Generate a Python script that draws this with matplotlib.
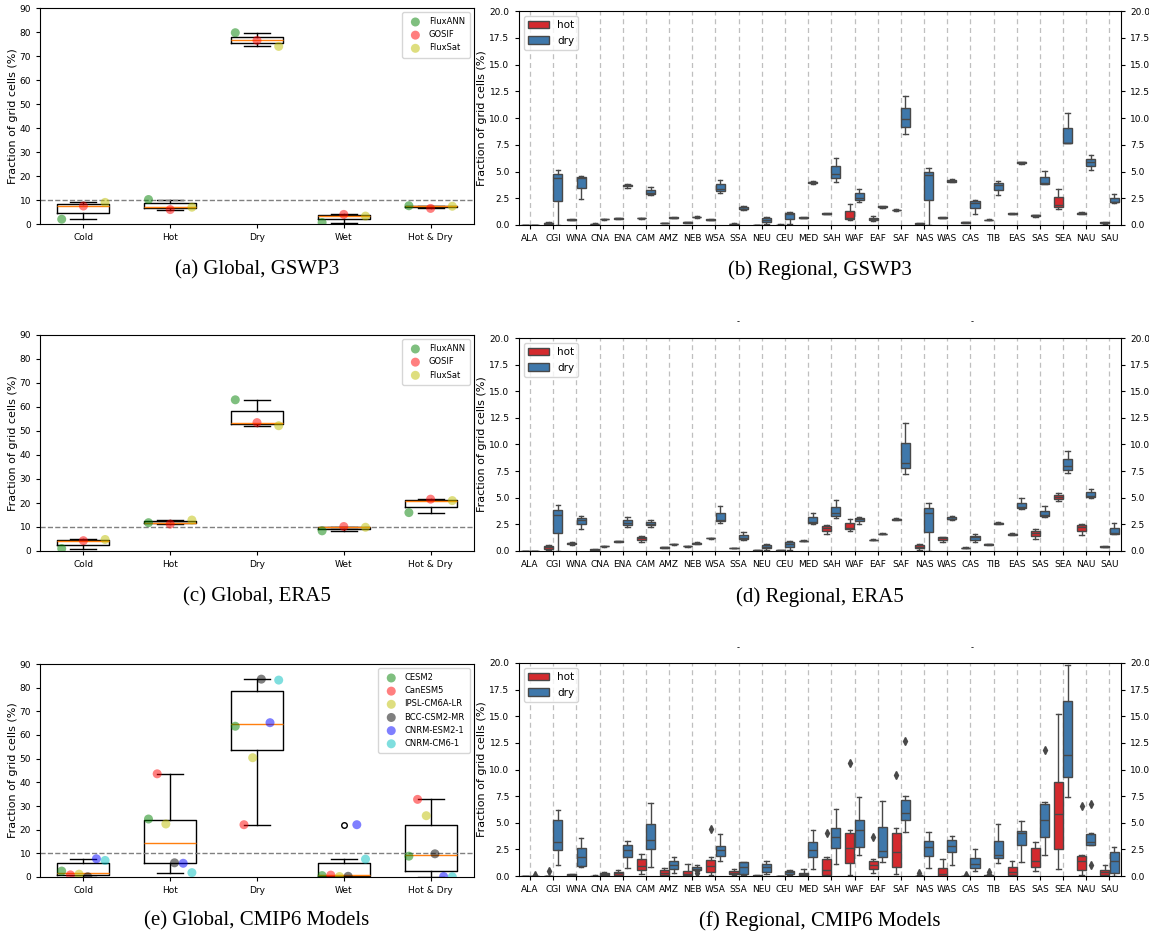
import numpy as np
import matplotlib.pyplot as plt
from matplotlib.patches import Patch

# ---- global panels: fraction of grid cells per driver ----
categories = ['Cold', 'Hot', 'Dry', 'Wet', 'Hot & Dry']

gswp3_fluxann = [2.0, 10.2, 79.7, 0.6, 7.6]
gswp3_gosif = [7.5, 6.0, 76.5, 4.0, 6.5]
gswp3_fluxsat = [9.0, 7.0, 74.0, 3.3, 7.4]

era5_fluxann = [1.0, 11.8, 63.0, 8.4, 16.0]
era5_gosif = [4.3, 11.2, 53.5, 10.2, 21.6]
era5_fluxsat = [4.8, 12.9, 52.2, 9.9, 21.0]

cesm2 = [2.5, 24.5, 63.7, 0.6, 8.8]
canesm5 = [0.9, 43.6, 22.1, 0.8, 32.8]
ipsl = [1.2, 22.4, 50.4, 0.2, 25.9]
bcc = [0.1, 6.0, 83.6, 0.3, 9.8]
cnrm_esm = [7.7, 5.8, 65.2, 22.1, 0.2]
cnrm_cm = [7.0, 1.85, 83.2, 7.55, 0.1]

# ---- regional panels ----
regions = ['ALA', 'CGI', 'WNA', 'CNA', 'ENA', 'CAM', 'AMZ', 'NEB', 'WSA', 'SSA',
           'NEU', 'CEU', 'MED', 'SAH', 'WAF', 'EAF', 'SAF', 'NAS', 'WAS', 'CAS',
           'TIB', 'EAS', 'SAS', 'SEA', 'NAU', 'SAU']

# three GPP products per region (GSWP3)
gswp3_hot = [[0, 0, 0.02], [0.05, 0.15, 0.25], [0.45, 0.5, 0.55], [0.05, 0.1, 0.15],
             [0.55, 0.62, 0.7], [0.6, 0.65, 0.7], [0.15, 0.2, 0.22], [0.2, 0.25, 0.3],
             [0.45, 0.5, 0.55], [0.05, 0.1, 0.15], [0, 0, 0.02], [0, 0.02, 0.05],
             [0.65, 0.7, 0.72], [1.0, 1.05, 1.12], [0.45, 0.65, 2.0], [0.4, 0.55, 0.8],
             [1.35, 1.4, 1.45], [0.05, 0.1, 0.2], [0.65, 0.7, 0.72], [0.2, 0.25, 0.28],
             [0.45, 0.5, 0.52], [1.0, 1.05, 1.1], [0.75, 0.9, 0.95], [1.45, 1.85, 3.4],
             [1.0, 1.1, 1.2], [0.1, 0.2, 0.3]]
gswp3_dry = [[0, 0, 0.02], [0, 4.4, 5.1], [2.44, 4.4, 4.55], [0.5, 0.55, 0.6],
             [3.45, 3.75, 3.8], [2.85, 3.0, 3.55], [0.65, 0.7, 0.72], [0.7, 0.75, 0.8],
             [3.0, 3.4, 4.25], [1.4, 1.5, 1.8], [0.1, 0.5, 0.75], [0.1, 1.05, 1.2],
             [3.85, 4.0, 4.1], [4.05, 4.75, 6.25], [2.15, 2.55, 3.35], [1.6, 1.7, 1.8],
             [8.5, 9.9, 12.05], [0, 4.7, 5.3], [4.0, 4.1, 4.3], [1.0, 2.1, 2.35],
             [2.85, 3.75, 4.15], [5.7, 5.85, 5.9], [3.8, 3.9, 5.05], [7.65, 7.7, 10.45],
             [5.1, 5.9, 6.5], [2.1, 2.15, 2.9]]

# three GPP products per region (ERA5)
era5_hot = [[0, 0, 0], [0.05, 0.35, 0.6], [0.6, 0.75, 0.8], [0.05, 0.12, 0.18],
            [0.85, 0.9, 0.95], [0.85, 1.25, 1.4], [0.3, 0.35, 0.4], [0.4, 0.45, 0.5],
            [1.15, 1.2, 1.25], [0.25, 0.28, 0.32], [0, 0.05, 0.08], [0, 0.05, 0.1],
            [0.9, 0.95, 1.0], [1.55, 2.2, 2.45], [1.9, 2.2, 3.05], [1.0, 1.05, 1.1],
            [2.9, 3.0, 3.1], [0.1, 0.4, 0.65], [0.85, 1.2, 1.35], [0.25, 0.3, 0.35],
            [0.55, 0.62, 0.68], [1.5, 1.58, 1.65], [1.15, 1.65, 2.1], [4.7, 5.1, 5.4],
            [1.5, 2.3, 2.55], [0.38, 0.42, 0.46]]
era5_dry = [[0, 0, 0], [0, 3.4, 4.3], [2.1, 2.9, 3.25], [0.4, 0.45, 0.5],
            [2.3, 2.6, 3.2], [2.3, 2.5, 2.9], [0.6, 0.65, 0.7], [0.65, 0.72, 0.8],
            [2.6, 2.95, 4.2], [1.05, 1.25, 1.75], [0.1, 0.4, 0.65], [0.05, 0.65, 0.95],
            [2.55, 2.75, 3.55], [3.1, 3.55, 4.8], [2.5, 3.05, 3.2], [1.55, 1.6, 1.65],
            [7.25, 8.25, 12.0], [0, 3.6, 4.5], [2.9, 3.05, 3.25], [0.85, 1.3, 1.6],
            [2.5, 2.6, 2.75], [3.9, 4.15, 4.95], [3.2, 3.35, 4.2], [7.35, 7.95, 9.35],
            [4.95, 5.2, 5.85], [1.55, 1.65, 2.65]]

# CMIP6 box summaries: (low whisker, q1, median, q3, high whisker)
cmip_hot = [(0, 0, 0, 0, 0), (0, 0, 0, 0, 0), (0, 0, 0.05, 0.15, 0.2), (0, 0, 0, 0.02, 0.05),
            (0, 0.1, 0.25, 0.35, 0.55), (0.15, 0.55, 0.9, 1.6, 2.1), (0, 0.1, 0.3, 0.55, 0.75),
            (0, 0.05, 0.2, 0.45, 1.15), (0.1, 0.35, 0.9, 1.5, 1.75), (0.05, 0.15, 0.3, 0.45, 0.7),
            (0, 0, 0, 0.05, 0.1), (0, 0, 0, 0, 0.02), (0, 0.05, 0.15, 0.3, 0.65),
            (0, 0.05, 0.6, 1.55, 1.8), (0.1, 1.25, 2.6, 4.05, 4.3), (0.25, 0.7, 1.0, 1.45, 1.55),
            (0.2, 0.85, 2.3, 4.05, 4.5), (0, 0, 0, 0, 0.05), (0, 0, 0.2, 0.75, 1.55),
            (0, 0, 0, 0, 0.02), (0, 0, 0, 0.05, 0.15), (0, 0.05, 0.35, 0.85, 1.45),
            (0.45, 0.85, 1.45, 2.6, 3.15), (0.7, 2.55, 5.8, 8.85, 15.2),
            (0.05, 0.6, 1.4, 1.9, 2.0), (0, 0.05, 0.35, 0.6, 1.0)]
cmip_dry = [(0, 0, 0, 0, 0), (1.0, 2.4, 3.2, 5.28, 6.2), (0.85, 0.95, 1.75, 2.67, 3.55),
            (0, 0.05, 0.15, 0.25, 0.35), (0.75, 1.8, 2.4, 2.95, 3.25), (0.85, 2.55, 3.4, 4.9, 6.85),
            (0.25, 0.7, 1.05, 1.4, 1.8), (0.5, 0.6, 0.7, 0.85, 1.05), (1.4, 1.85, 2.45, 2.85, 3.95),
            (0.1, 0.2, 0.85, 1.3, 1.35), (0.15, 0.4, 0.85, 1.15, 1.45), (0.05, 0.2, 0.35, 0.5, 0.6),
            (0.65, 1.75, 2.4, 3.2, 4.35), (1.15, 2.65, 3.7, 4.5, 6.3), (2.0, 2.75, 4.3, 5.3, 7.4),
            (1.3, 1.75, 2.35, 4.6, 7.0), (4.15, 5.3, 5.9, 7.15, 7.55), (0.75, 1.85, 2.7, 3.25, 4.15),
            (1.05, 2.25, 2.85, 3.35, 3.75), (0.5, 0.75, 1.15, 1.7, 2.55), (1.2, 1.65, 2.0, 3.3, 4.85),
            (1.35, 2.95, 4.05, 4.25, 5.2), (1.95, 3.7, 5.3, 6.75, 6.95), (7.4, 9.25, 11.4, 16.45, 19.8),
            (2.95, 2.95, 3.2, 3.9, 4.0), (0, 0.3, 1.45, 2.3, 2.7)]
cmip_hot_fliers = {'CGI': [0.45], 'WSA': [4.4], 'SAH': [4.0], 'WAF': [10.6], 'EAF': [3.7],
                   'SAF': [9.5], 'NAS': [0.25], 'CAS': [0.1], 'TIB': [0.35], 'NAU': [6.55]}
cmip_dry_fliers = {'ALA': [0.05], 'NEB': [0.3], 'SAF': [12.7], 'SAS': [11.8], 'NAU': [6.8, 1.05]}

RED = '#d42a2e'
BLUE = '#3f78ab'
EDGE = '#484848'

W, H = 1149, 940
fig = plt.figure(figsize=(W / 100, H / 100), dpi=100)


def axes_px(x0, y0, x1, y1):
    return fig.add_axes([x0 / W, 1 - y1 / H, (x1 - x0) / W, (y1 - y0) / H])


def global_panel(ax, series, names, colors):
    n = len(series)
    offsets = np.linspace(-0.25, 0.25, n)
    data = np.array(series)
    ax.boxplot([data[:, j] for j in range(len(categories))], widths=0.6,
               boxprops=dict(color='black'), whiskerprops=dict(color='black'),
               capprops=dict(color='black'), medianprops=dict(color='#ff7f0e'),
               flierprops=dict(markersize=4))
    x = np.arange(1, len(categories) + 1)
    for k in range(n):
        ax.scatter(x + offsets[k], series[k], s=42, color=colors[k], alpha=0.5,
                   edgecolors='none', label=names[k], zorder=3)
    ax.axhline(10, color='grey', ls='--', lw=1)
    ax.set_xlim(0.5, len(categories) + 0.5)
    ax.set_ylim(0, 90)
    ax.set_yticks(range(0, 91, 10))
    ax.set_xticks(x)
    ax.set_xticklabels(categories)
    ax.tick_params(labelsize=6.5, length=3)
    ax.set_ylabel('Fraction of grid cells (%)', fontsize=8, labelpad=1)
    ax.legend(loc='upper right', fontsize=6, handletextpad=0.6, borderpad=0.6)


def box_style(color):
    return dict(widths=0.39, patch_artist=True,
                boxprops=dict(facecolor=color, edgecolor=EDGE, lw=1),
                whiskerprops=dict(color=EDGE, lw=1), capprops=dict(color=EDGE, lw=1),
                medianprops=dict(color=EDGE, lw=1),
                flierprops=dict(marker='d', markerfacecolor=EDGE, markeredgecolor=EDGE,
                                markersize=4))


def to_stats(summary, fliers):
    out = []
    for r, (lo, q1, med, q3, hi) in zip(regions, summary):
        out.append(dict(whislo=lo, q1=q1, med=med, q3=q3, whishi=hi,
                        fliers=fliers.get(r, [])))
    return out


def regional_panel(ax, hot, dry, from_stats=False, hot_fl=None, dry_fl=None):
    x = np.arange(len(regions))
    ax.set_axisbelow(True)
    ax.xaxis.grid(True, ls=(0, (4, 3)), color='0.75', lw=0.9)
    if from_stats:
        ax.bxp(to_stats(hot, hot_fl), positions=x - 0.2, **box_style(RED))
        ax.bxp(to_stats(dry, dry_fl), positions=x + 0.2, **box_style(BLUE))
    else:
        ax.boxplot(hot, positions=x - 0.2, **box_style(RED))
        ax.boxplot(dry, positions=x + 0.2, **box_style(BLUE))
    ax.set_xlim(-0.5, len(regions) - 0.5)
    ax.set_ylim(0, 20)
    ax.set_xticks(x)
    ax.set_xticklabels(regions)
    ax.set_yticks(np.arange(0, 20.1, 2.5))
    ax.yaxis.set_major_formatter('{x:.1f}')
    ax.tick_params(axis='y', right=True, labelright=True)
    ax.tick_params(labelsize=6.5, length=3)
    ax.set_ylabel('Fraction of grid cells (%)', fontsize=8, labelpad=2)
    handles = [Patch(facecolor=RED, edgecolor=EDGE, label='hot'),
               Patch(facecolor=BLUE, edgecolor=EDGE, label='dry')]
    ax.legend(handles=handles, loc='upper left', fontsize=7.5)


obs_names = ['FluxANN', 'GOSIF', 'FluxSat']
obs_colors = ['g', 'r', 'y']

ax_a = axes_px(40, 8, 474, 224)
global_panel(ax_a, [gswp3_fluxann, gswp3_gosif, gswp3_fluxsat], obs_names, obs_colors)
ax_c = axes_px(40, 335, 474, 551)
global_panel(ax_c, [era5_fluxann, era5_gosif, era5_fluxsat], obs_names, obs_colors)
ax_e = axes_px(40, 664, 474, 877)
global_panel(ax_e, [cesm2, canesm5, ipsl, bcc, cnrm_esm, cnrm_cm],
             ['CESM2', 'CanESM5', 'IPSL-CM6A-LR', 'BCC-CSM2-MR', 'CNRM-ESM2-1', 'CNRM-CM6-1'],
             ['g', 'r', 'y', 'k', 'b', 'c'])

ax_b = axes_px(518.5, 11, 1121, 225)
regional_panel(ax_b, gswp3_hot, gswp3_dry)
ax_d = axes_px(518.5, 338, 1121, 551)
regional_panel(ax_d, era5_hot, era5_dry)
ax_f = axes_px(518.5, 663, 1121, 876)
regional_panel(ax_f, cmip_hot, cmip_dry, from_stats=True,
               hot_fl=cmip_hot_fliers, dry_fl=cmip_dry_fliers)

for y in (322, 648):
    for x in (738, 972):
        fig.text(x / W, 1 - y / H, '-', fontsize=6, ha='center', va='center')

captions = [('(a) Global, GSWP3', 257, 270), ('(b) Regional, GSWP3', 820, 270),
            ('(c) Global, ERA5', 257, 597), ('(d) Regional, ERA5', 820, 597),
            ('(e) Global, CMIP6 Models', 257, 921), ('(f) Regional, CMIP6 Models', 820, 921)]
for text, x, y in captions:
    fig.text(x / W, 1 - y / H, text, fontsize=15, family='Liberation Serif',
             ha='center', va='center')

fig.savefig('out.png', dpi=100)
